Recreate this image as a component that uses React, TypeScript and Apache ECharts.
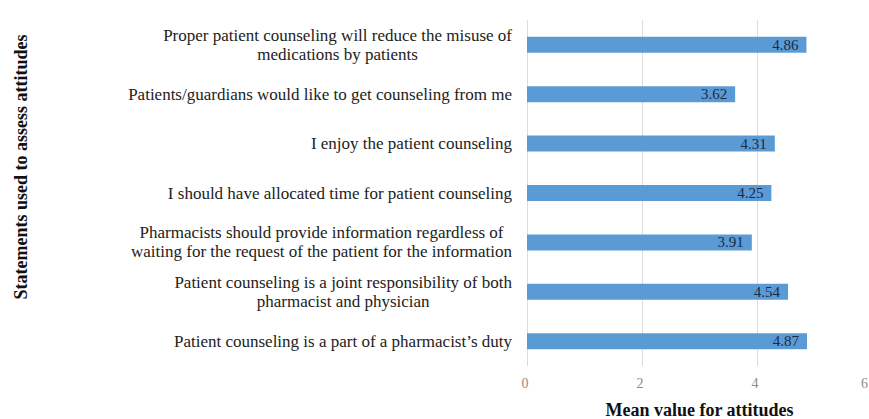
import React, { useEffect, useRef } from "react";
import * as echarts from "echarts";

const categories: string[] = [
  "Proper patient counseling will reduce the misuse of\nmedications by patients",
  "Patients/guardians would like to get counseling from me",
  "I enjoy the patient counseling",
  "I should have allocated time for patient counseling",
  "Pharmacists should provide information regardless of\nwaiting for the request of the patient for the information",
  "Patient counseling is a joint responsibility of both\npharmacist and physician",
  "Patient counseling is a part of a pharmacist\u2019s duty",
];
const meanValues: number[] = [4.86, 3.62, 4.31, 4.25, 3.91, 4.54, 4.87];
const xTicks = { min: 0, max: 6, interval: 2 };
const xTitle = "Mean value for attitudes";
const yTitle = "Statements used to assess attitudes";

const SERIF = "'Liberation Serif', 'Times New Roman', serif";

export default function App() {
  const ref = useRef<HTMLDivElement>(null);
  useEffect(() => {
    if (!ref.current) return;
    const chart = echarts.init(ref.current, undefined, { renderer: "svg" });
    chart.setOption({
      animation: false,
      grid: {
        left: 527,
        width: 345,
        top: 20,
        height: 346,
        containLabel: false,
        outerBoundsMode: "none",
      },
      xAxis: {
        type: "value",
        min: xTicks.min,
        max: xTicks.max,
        interval: xTicks.interval,
        axisLine: { show: false },
        axisTick: { show: false },
        splitLine: { show: true, lineStyle: { color: "#dcdcdc", width: 1 } },
        axisLabel: {
          color: "#8c8c8c",
          fontFamily: SERIF,
          fontSize: 14,
          margin: 10,
          alignMaxLabel: "right",
          padding: [0, 4, 0, 0],
        },
        name: xTitle,
        nameLocation: "middle",
        nameGap: 35,
        nameTextStyle: { fontFamily: SERIF, fontWeight: "bold", fontSize: 18, color: "#111" },
      },
      yAxis: {
        type: "category",
        data: categories,
        inverse: true,
        axisLine: { show: false },
        axisTick: { show: false },
        axisLabel: {
          margin: 15,
          align: "right",
          formatter: (v: string) =>
            v.split("\n").map((l) => `{c|${l}}`).join("\n"),
          rich: {
            c: {
              align: "center",
              fontFamily: SERIF,
              fontSize: 17,
              lineHeight: 19,
              color: "#222",
            },
          },
        },
      },
      graphic: [
        {
          type: "text",
          x: 21,
          y: 167,
          rotation: Math.PI / 2,
          style: {
            text: yTitle,
            fontFamily: SERIF,
            fontWeight: "bold",
            fontSize: 18,
            fill: "#111",
            align: "center",
            verticalAlign: "middle",
          },
        },
      ],
      series: [
        {
          type: "bar",
          data: meanValues,
          barWidth: 16,
          itemStyle: { color: "#5b9bd5" },
          label: {
            show: true,
            position: "insideRight",
            distance: 8,
            formatter: (p: any) => p.value.toFixed(2),
            fontFamily: SERIF,
            fontSize: 15,
            color: "#1b2a44",
          },
        },
      ],
    });
    return () => chart.dispose();
  }, []);
  return (
    <div
      ref={ref}
      style={{ position: "absolute", left: 0, top: 0, width: 869, height: 419, background: "#fff" }}
    />
  );
}
